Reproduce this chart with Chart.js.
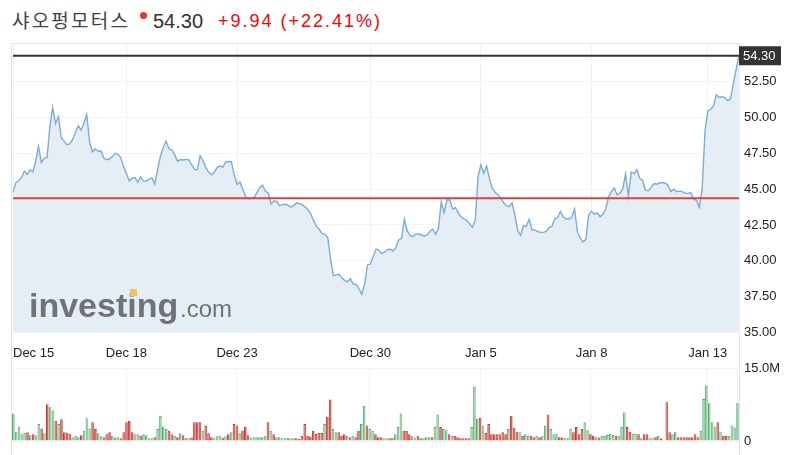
<!DOCTYPE html>
<html>
<head>
<meta charset="utf-8">
<script src="https://cdn.jsdelivr.net/npm/chart.js@4.4.0/dist/chart.umd.min.js"></script>
<style>
  body { margin: 0; background: #fff; width: 809px; height: 455px; overflow: hidden; position: relative; font-family: "Liberation Sans", Arial, sans-serif; }
  .abs { position: absolute; white-space: nowrap; line-height: 22px; }
  #frame { position: absolute; left: 11px; top: 43px; width: 727px; height: 420px; border: 1px solid #dfe3e9; border-bottom: none; }
  canvas { position: absolute; left: 0; }
</style>
</head>
<body>
<div class="abs" style="left:12px;top:9px;font-size:19px;letter-spacing:2.2px;font-family:'Noto Sans CJK KR';color:#444;">샤오펑모터스</div>
<div class="abs" style="left:140px;top:12px;width:7px;height:7px;border-radius:50%;background:#e8332f;"></div>
<div class="abs" style="left:153px;top:10px;font-size:20px;color:#333;">54.30</div>
<div class="abs" style="left:218px;top:10px;font-size:18px;letter-spacing:2px;color:#f00;">+9.94 (+22.41%)</div>
<div id="frame"></div>
<canvas id="price" width="809" height="362" style="top:0"></canvas>
<canvas id="vol" width="809" height="100" style="top:355px"></canvas>
<script>
// 30-minute closes, Dec 15 -> Jan 13
const prices = [
  44.77,45.45,45.6,45.8,46.25,46.03,46.33,46.2,46.95,47.96,
  46.84,47.14,47.19,49.35,50.68,49.58,50.05,48.6,48.35,48.1,
  48.15,48.45,48.95,49.42,49.12,49.58,50.21,48.3,47.6,47.82,
  47.63,47.68,47.17,47.05,47.1,47.25,47.49,47.43,47.2,46.55,
  46.08,45.56,45.76,45.8,45.47,45.85,45.56,45.56,45.7,45.78,
  45.35,46.4,47.3,47.9,48.35,47.8,47.73,47.4,46.95,47.06,
  47.03,47.07,47.04,46.7,46.38,46.35,47.33,46.98,46.5,46.18,
  46.0,46.17,46.52,46.61,46.53,46.9,46.93,46.91,46.0,45.33,
  45.5,45.0,44.46,44.32,44.36,44.4,44.75,45.1,45.27,44.85,
  44.75,43.95,44.17,44.15,43.85,43.92,43.94,43.86,43.76,43.85,
  44.05,43.99,43.9,43.76,43.56,43.28,42.8,42.4,42.18,41.9,
  41.85,41.6,40.1,38.96,39.02,39.06,38.8,38.62,38.55,38.75,
  38.38,38.35,38.05,37.68,38.4,39.71,39.78,40.3,40.82,40.75,
  40.5,40.6,40.78,40.8,40.68,40.92,41.45,41.57,42.9,42.1,
  41.75,41.68,41.86,41.87,41.8,41.72,41.8,42.04,42.2,41.85,
  42.25,44.1,43.35,44.24,44.25,43.62,43.7,43.35,43.07,42.93,
  42.83,42.58,42.33,42.85,45.9,46.68,46.1,46.6,45.73,45.05,
  44.78,44.6,44.37,44.05,43.84,43.78,44.05,43.15,42.08,41.78,
  42.45,42.4,42.9,42.15,42.15,42.03,41.99,41.98,42.05,42.31,
  42.4,42.93,43.0,43.45,43.06,42.93,42.92,43.02,43.6,42.05,
  41.58,41.32,41.5,43.2,43.46,43.26,43.35,43.08,43.23,43.62,
  44.45,44.82,45.08,44.6,44.72,45.0,46.05,44.5,46.18,46.08,
  46.35,45.75,45.6,44.92,44.88,45.12,45.39,45.34,45.44,45.45,
  45.43,45.25,44.83,45.0,44.82,44.86,44.83,44.7,44.7,44.75,
  44.3,44.22,43.73,45.0,49.0,50.45,50.55,50.8,51.58,51.4,
  51.44,51.38,51.17,51.28,52.35,53.35,54.30
];

// volume in millions
const volume = [
  5.7,1.8,3.0,1.4,1.7,1.8,1.2,1.4,1.2,3.5,
  2.6,1.6,7.6,7.0,6.3,4.2,3.5,4.5,1.8,1.7,
  1.5,0.7,1.1,0.8,1.2,2.1,4.7,2.6,3.9,2.5,
  1.6,1.0,0.8,1.4,1.8,1.1,0.6,0.8,0.55,1.8,
  3.9,4.2,1.8,1.4,1.4,1.1,1.4,1.2,0.55,0.55,
  0.8,2.5,5.2,3.0,2.5,2.1,1.4,1.1,0.8,1.6,
  1.2,0.55,0.55,0.7,3.9,3.9,3.9,2.1,3.1,1.6,
  0.8,0.55,1.0,1.1,0.75,1.0,1.4,1.8,3.5,3.2,
  1.6,2.1,3.0,1.2,0.7,0.8,0.8,0.8,0.8,1.0,
  3.9,
  2.1,1.4,0.8,0.8,0.55,0.55,0.55,0.55,0.55,0.55,
  0.4,1.1,3.5,1.1,0.9,2.1,1.45,1.65,1.65,3.5,
  5.0,8.6,2.5,1.8,1.8,1.1,1.4,1.1,0.8,1.1,
  0.8,2.1,3.5,7.3,3.2,2.5,2.1,1.4,0.8,0.8,
  0.55,0.55,0.55,0.55,1.4,2.9,5.7,2.1,2.1,1.4,
  1.0,0.7,1.1,0.55,0.55,0.8,0.8,0.8,2.9,5.5,
  2.9,2.5,2.2,1.4,1.1,1.1,0.8,0.55,0.55,0.55,
  0.55,2.9,11.2,4.6,4.8,3.2,1.65,3.5,1.4,1.4,
  1.4,1.4,1.8,1.4,2.5,5.2,2.8,1.9,1.8,1.1,
  1.4,1.1,1.1,0.8,1.1,
  0.8,1.0,3.2,5.5,2.5,1.4,1.4,0.8,0.7,0.55,
  0.55,2.6,1.8,2.9,1.4,2.5,3.9,2.2,1.4,1.1,
  0.8,0.7,1.1,1.1,1.25,1.5,1.25,1.1,1.1,2.9,
  5.9,2.9,1.9,1.5,1.5,1.4,0.55,1.4,1.4,0.55,
  0.55,0.8,1.1,0.55,0,8.0,1.8,1.4,1.8,0.8,
  0.8,0.8,0.8,0.8,0.8,1.4,0.8,2.1,8.7,11.5,
  7.8,3.9,3.0,3.9,1.8,1.1,1.1,1.1,3.2,2.8,
  7.8
];

// 1 = up bar (green), 0 = down bar (red)
const volumeUp = [
  1,1,1,1,1,0,1,0,1,1, 0,1,0,1,1,0,1,0,0,0, 0,1,1,1,0,1,1,1,0,0,
  1,1,0,0,0,1,1,1,0,0, 0,0,0,1,1,0,1,1,1,1, 0,1,1,1,1,0,0,1,0,1,
  0,0,1,0,0,0,0,1,0,0, 0,1,1,1,0,1,0,1,0,0, 1,0,0,0,1,1,1,1,1,1,
  0,
  1,0,1,1,1,1,0,1,1,0, 0,0,0,0,0,0,0,0,0,1, 0,0,1,1,0,0,0,1,0,1,
  0,0,1,1,0,1,1,0,0,0, 1,1,0,0,1,1,1,0,0,0, 1,1,0,0,1,1,1,0,1,1,
  0,1,1,0,1,0,0,0,0,0, 0,1,1,1,0,1,0,0,0,0, 0,0,0,0,1,0,0,0,1,0,
  1,1,0,0,1,
  0,1,1,0,1,1,1,0,0,1, 1,1,0,0,0,0,1,1,0,0, 1,0,1,1,1,1,1,0,1,1,
  1,0,0,1,1,0,1,0,0,1, 1,0,1,0,0,0,0,1,1,0, 0,0,0,0,0,0,0,1,1,1,
  1,1,1,0,1,0,0,1,1,1, 1
];

const tickLabels = ['Dec 15', 'Dec 18', 'Dec 23', 'Dec 30', 'Jan 5', 'Jan 8', 'Jan 13'];
const tickIndex = [0, 40, 79, 126, 165, 204, 245];

const lastPrice = 54.30;
const prevClose = 44.36;

const N = prices.length;
const labels = prices.map(() => '');
tickIndex.forEach((idx, k) => { labels[idx] = tickLabels[k]; });

Chart.defaults.font.family = '"Liberation Sans", Arial, sans-serif';
Chart.defaults.color = '#222';

const dateTicks = axis => {
  axis.ticks = tickIndex.concat([N - 1]).map(v => ({ value: v }));
};

const priceOverlay = {
  id: 'priceOverlay',
  afterDatasetsDraw(chart) {
    const ctx = chart.ctx;
    ctx.save();
    ctx.fillStyle = 'rgba(98,101,107,0.9)';
    ctx.textBaseline = 'alphabetic';
    ctx.font = 'bold 34px "Liberation Sans", Arial';
    ctx.fillText('investing', 29, 317);
    ctx.font = '24px "Liberation Sans", Arial';
    ctx.fillText('.com', 180, 317);
    ctx.fillStyle = '#efc35a';
    ctx.fillRect(130, 289, 7, 7);
    ctx.restore();
  },
  afterDraw(chart) {
    const ctx = chart.ctx;
    const area = chart.chartArea;
    const y = chart.scales.y;
    const yLast = y.getPixelForValue(lastPrice);
    const yPrev = y.getPixelForValue(prevClose);
    ctx.save();
    ctx.lineWidth = 2;
    ctx.strokeStyle = '#d9433d';
    ctx.beginPath();
    ctx.moveTo(area.left, yPrev);
    ctx.lineTo(area.right, yPrev);
    ctx.stroke();
    ctx.strokeStyle = '#333';
    ctx.beginPath();
    ctx.moveTo(area.left, yLast);
    ctx.lineTo(area.right, yLast);
    ctx.stroke();
    ctx.fillStyle = '#333';
    ctx.fillRect(area.right, yLast - 9.5, 42, 19);
    ctx.fillStyle = '#fff';
    ctx.font = '13px "Liberation Sans", Arial';
    ctx.textBaseline = 'middle';
    ctx.fillText(lastPrice.toFixed(2), area.right + 4, yLast + 0.5);
    ctx.restore();
  }
};

new Chart(document.getElementById('price'), {
  type: 'line',
  data: {
    labels: labels,
    datasets: [{
      data: prices,
      borderColor: '#7aaddc',
      borderWidth: 1.4,
      backgroundColor: '#e5eef5',
      fill: 'start',
      pointRadius: 0,
      tension: 0
    }]
  },
  options: {
    responsive: false,
    animation: false,
    layout: { padding: { left: 12, top: 44, right: 0, bottom: 0 } },
    plugins: { legend: { display: false }, tooltip: { enabled: false } },
    scales: {
      x: {
        offset: false,
        grid: { color: '#edf0f4', drawTicks: false },
        border: { display: false },
        afterBuildTicks: dateTicks,
        afterFit: axis => { axis.height = 29.5; },
        ticks: {
          autoSkip: false,
          maxRotation: 0,
          align: 'inner',
          padding: 13,
          font: { size: 13 },
          callback: v => labels[v]
        }
      },
      y: {
        position: 'right',
        min: 35,
        max: 55.12,
        grid: { color: '#f3f4f6', drawTicks: false },
        border: { display: false },
        afterBuildTicks: axis => {
          axis.ticks = axis.ticks.filter(t => t.value <= 52.5 && Math.abs(t.value / 2.5 - Math.round(t.value / 2.5)) < 1e-6);
        },
        afterFit: axis => { axis.width = 70; },
        ticks: { stepSize: 2.5, padding: 5, font: { size: 13 }, callback: v => Number(v).toFixed(2) }
      }
    }
  },
  plugins: [priceOverlay]
});

new Chart(document.getElementById('vol'), {
  type: 'bar',
  data: {
    labels: labels,
    datasets: [{
      data: volume,
      backgroundColor: volumeUp.map(u => u ? '#97d0a6' : '#da6461'),
      borderColor: volumeUp.map(u => u ? '#52a66a' : '#bf3c37'),
      borderWidth: { left: 1, top: 1, right: 0, bottom: 0 },
      barPercentage: 1,
      categoryPercentage: 0.96
    }]
  },
  options: {
    responsive: false,
    animation: false,
    layout: { padding: { left: 12, top: 13.5, right: 0, bottom: 14 } },
    plugins: { legend: { display: false }, tooltip: { enabled: false } },
    scales: {
      x: {
        grid: { color: '#f0f2f5', drawTicks: false, offset: false },
        border: { display: false },
        afterBuildTicks: dateTicks,
        afterFit: axis => { axis.height = 0; },
        ticks: { display: false }
      },
      y: {
        position: 'right',
        min: 0,
        max: 15,
        grid: { color: '#f3f4f6', drawTicks: false },
        border: { display: false },
        afterFit: axis => { axis.width = 70; },
        ticks: { stepSize: 15, padding: 5, font: { size: 13 }, callback: v => v === 0 ? '0' : Number(v).toFixed(1) + 'M' }
      }
    }
  }
});
</script>
</body>
</html>
